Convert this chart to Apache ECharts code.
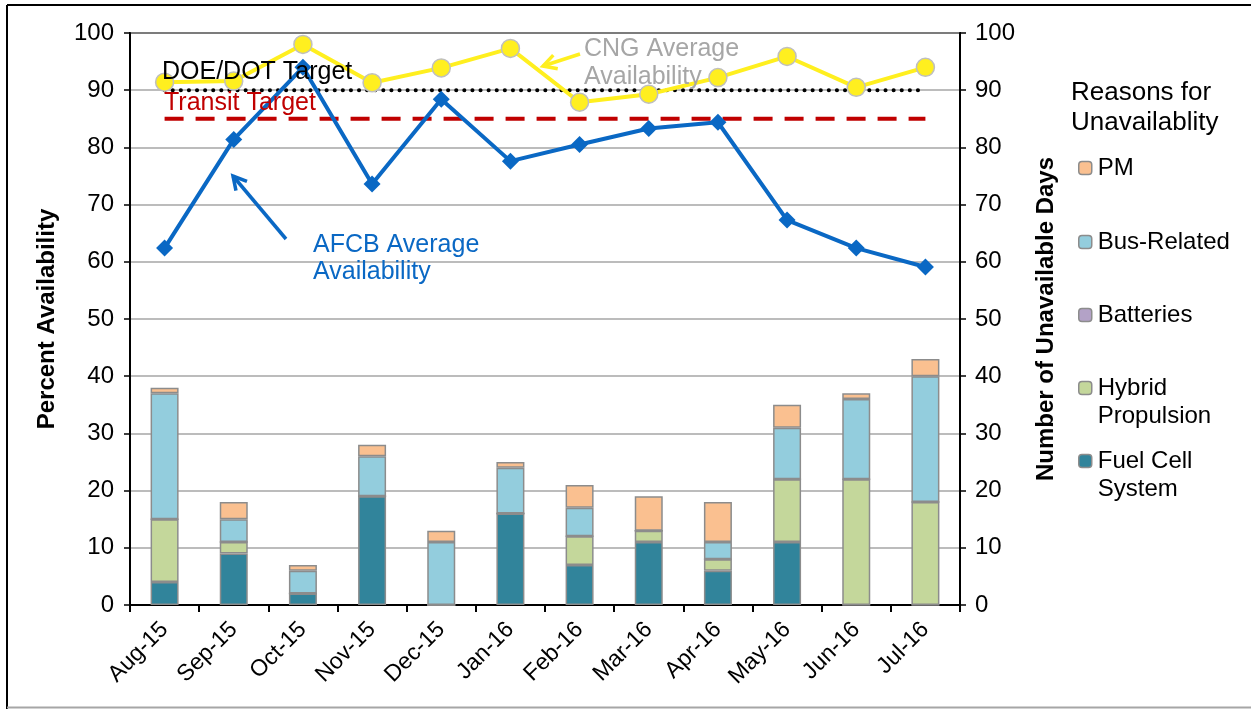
<!DOCTYPE html>
<html>
<head>
<meta charset="utf-8">
<script src="https://cdn.jsdelivr.net/npm/echarts@6/dist/echarts.min.js"></script>
<style>
  html, body { margin: 0; padding: 0; background: #fff; }
  #main { width: 1251px; height: 709px; }
</style>
</head>
<body>
<div id="main"></div>
<script>
var months = ['Aug-15', 'Sep-15', 'Oct-15', 'Nov-15', 'Dec-15', 'Jan-16', 'Feb-16', 'Mar-16', 'Apr-16', 'May-16', 'Jun-16', 'Jul-16'];

// availability (%), left axis
var afcbAvail = [62.4, 81.4, 94.0, 73.6, 88.4, 77.6, 80.5, 83.3, 84.4, 67.3, 62.4, 59.1];
var cngAvail = [91.4, 91.6, 98.0, 91.3, 93.9, 97.3, 87.9, 89.3, 92.2, 95.9, 90.5, 94.0];
var doeTarget = [90, 90, 90, 90, 90, 90, 90, 90, 90, 90, 90, 90];
var transitTarget = [85, 85, 85, 85, 85, 85, 85, 85, 85, 85, 85, 85];

// unavailable days by reason, right axis
var fuelCell = [4, 9, 2, 19, 0, 16, 7, 11, 6, 11, 0, 0];
var hybrid = [11, 2, 0, 0, 0, 0, 5, 2, 2, 11, 22, 18];
var batteries = [0, 0, 0, 0, 0, 0, 0, 0, 0, 0, 0, 0];
var busRelated = [22, 4, 4, 7, 11, 8, 5, 0, 3, 9, 14, 22];
var pm = [1, 3, 1, 2, 2, 1, 4, 6, 7, 4, 1, 3];

var axisTicks = [0, 10, 20, 30, 40, 50, 60, 70, 80, 90, 100];

var font = 'Liberation Sans, Arial, sans-serif';
var barBorder = '#8c8c8c';
var blue = '#0a68c4';
var yellow = '#ffef1f';

var myChart = echarts.init(document.getElementById('main'));

function barSeries(name, data, color) {
    return {
        name: name,
        type: 'bar',
        stack: 'days',
        yAxisIndex: 1,
        barWidth: 28,
        itemStyle: { color: color, borderColor: barBorder, borderWidth: 1.5 },
        data: data,
        z: 2
    };
}

function legendAt(name, top) {
    return {
        data: [name],
        orient: 'vertical',
        left: 1078,
        top: top,
        padding: 0,
        itemWidth: 13,
        itemHeight: 13,
        itemGap: 0,
        selectedMode: false,
        formatter: function (n) {
            // blank first line keeps the swatch level with the first text line
            if (n === 'Hybrid Propulsion') return ' \nHybrid\nPropulsion';
            if (n === 'Fuel Cell System') return ' \nFuel Cell\nSystem';
            return n;
        },
        textStyle: { fontFamily: font, fontSize: 24, color: '#000', lineHeight: 28, padding: [0, 0, 0, 1] },
        itemStyle: { borderColor: barBorder, borderWidth: 1.5 }
    };
}

function arrow(x1, y1, x2, y2, color) {
    var ang = Math.atan2(y2 - y1, x2 - x1);
    var len = 15, spread = 0.5;
    var a1 = [x2 - len * Math.cos(ang - spread), y2 - len * Math.sin(ang - spread)];
    var a2 = [x2 - len * Math.cos(ang + spread), y2 - len * Math.sin(ang + spread)];
    return [
        { type: 'line', shape: { x1: x1, y1: y1, x2: x2, y2: y2 }, style: { stroke: color, lineWidth: 3.5 }, z: 50 },
        { type: 'polyline', shape: { points: [a1, [x2, y2], a2] }, style: { stroke: color, lineWidth: 3.5, fill: null }, z: 50 }
    ];
}

var option = {
    animation: false,
    backgroundColor: '#fff',
    title: {
        text: 'Reasons for\nUnavailablity',
        left: 1071,
        top: 78,
        padding: 0,
        textStyle: { fontFamily: font, fontSize: 26, fontWeight: 'normal', color: '#000', lineHeight: 30 }
    },
    legend: [
        legendAt('PM', 154),
        legendAt('Bus-Related', 228),
        legendAt('Batteries', 301),
        legendAt('Hybrid Propulsion', 346),
        legendAt('Fuel Cell System', 419)
    ],
    grid: {
        left: 130,
        right: 291,
        top: 33,
        bottom: 104,
        show: true,
        borderColor: '#000',
        borderWidth: 2,
        backgroundColor: 'transparent'
    },
    xAxis: {
        type: 'category',
        data: months,
        boundaryGap: true,
        axisLine: { lineStyle: { color: '#000', width: 2 } },
        axisTick: { show: true, length: 7, lineStyle: { color: '#000', width: 2 } },
        axisLabel: { rotate: 45, margin: 21, fontFamily: font, fontSize: 23, color: '#000' }
    },
    yAxis: [
        {
            type: 'value',
            min: axisTicks[0],
            max: axisTicks[axisTicks.length - 1],
            interval: 10,
            name: 'Percent Availability',
            nameLocation: 'middle',
            nameGap: 71,
            nameRotate: 90,
            nameTextStyle: { fontFamily: font, fontSize: 24, fontWeight: 'bold', color: '#000' },
            axisLine: { show: true, lineStyle: { color: '#000', width: 2 } },
            axisTick: { show: true, length: 6, lineStyle: { color: '#000', width: 1.5 } },
            axisLabel: { margin: 16, fontFamily: font, fontSize: 24, color: '#000' },
            splitLine: { show: true, lineStyle: { color: '#a6a6a6', width: 1.5 } }
        },
        {
            type: 'value',
            position: 'right',
            min: axisTicks[0],
            max: axisTicks[axisTicks.length - 1],
            interval: 10,
            name: 'Number of Unavailable Days',
            nameLocation: 'middle',
            nameGap: 74,
            nameRotate: 90,
            nameTextStyle: { fontFamily: font, fontSize: 24, fontWeight: 'bold', color: '#000' },
            axisLine: { show: true, lineStyle: { color: '#000', width: 2 } },
            axisTick: { show: true, length: 6, lineStyle: { color: '#000', width: 1.5 } },
            axisLabel: { margin: 15, fontFamily: font, fontSize: 24, color: '#000' },
            splitLine: { show: false }
        }
    ],
    series: [
        barSeries('Fuel Cell System', fuelCell, '#31849b'),
        barSeries('Hybrid Propulsion', hybrid, '#c4d79b'),
        barSeries('Batteries', batteries, '#b3a2c7'),
        barSeries('Bus-Related', busRelated, '#93cddd'),
        barSeries('PM', pm, '#fac090'),
        {
            name: 'DOE/DOT Target',
            type: 'line',
            yAxisIndex: 0,
            data: doeTarget,
            symbol: 'none',
            lineStyle: { color: '#000', width: 4, type: [0.1, 8], cap: 'round' },
            z: 3
        },
        {
            name: 'Transit Target',
            type: 'line',
            yAxisIndex: 0,
            data: transitTarget,
            symbol: 'none',
            lineStyle: { color: '#c00000', width: 4, type: [19, 12] },
            z: 3
        },
        {
            name: 'CNG Average Availability',
            type: 'line',
            yAxisIndex: 0,
            data: cngAvail,
            symbol: 'circle',
            symbolSize: 18,
            lineStyle: { color: yellow, width: 4 },
            itemStyle: { color: yellow, borderColor: '#bfbfbf', borderWidth: 1.5 },
            z: 4
        },
        {
            name: 'AFCB Average Availability',
            type: 'line',
            yAxisIndex: 0,
            data: afcbAvail,
            symbol: 'diamond',
            symbolSize: 17,
            lineStyle: { color: blue, width: 4 },
            itemStyle: { color: blue },
            z: 5
        }
    ],
    graphic: [
        { type: 'line', shape: { x1: 7, y1: 5, x2: 1251, y2: 5 }, style: { stroke: '#000', lineWidth: 2 } },
        { type: 'line', shape: { x1: 7, y1: 5, x2: 7, y2: 709 }, style: { stroke: '#000', lineWidth: 2 } },
        { type: 'line', shape: { x1: 7, y1: 707.5, x2: 1251, y2: 707.5 }, style: { stroke: '#a6a6a6', lineWidth: 2 } },
        { type: 'text', left: 162, top: 60, z: 60, style: { text: 'DOE/DOT Target', font: '25px ' + font, fill: '#000' } },
        { type: 'text', left: 164, top: 91, z: 60, style: { text: 'Transit Target', font: '25px ' + font, fill: '#c00000' } },
        { type: 'text', left: 584, top: 35, z: 60, style: { text: 'CNG Average\nAvailability', font: '25px ' + font, fill: '#a6a6a6', lineHeight: 28 } },
        { type: 'text', left: 313, top: 232, z: 60, style: { text: 'AFCB Average\nAvailability', font: '25px ' + font, fill: blue, lineHeight: 27 } }
    ].concat(arrow(580, 54, 543, 66, yellow)).concat(arrow(286, 239, 233, 176, blue))
};

myChart.setOption(option);
</script>
</body>
</html>
